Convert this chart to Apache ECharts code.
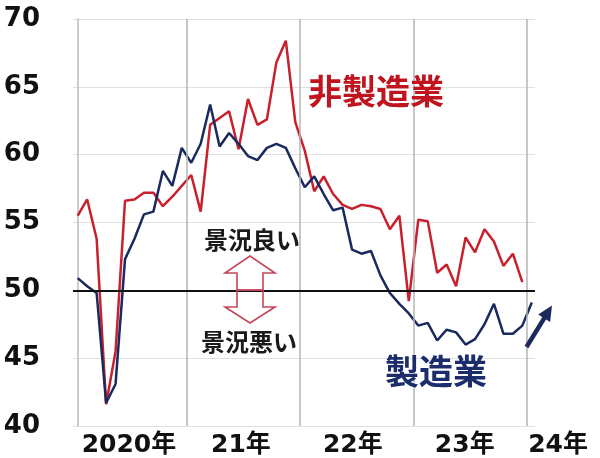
<!DOCTYPE html>
<html lang="ja">
<head>
    <meta charset="UTF-8">
    <title>製造業・非製造業の景況感</title>
    <script src="https://cdn.jsdelivr.net/npm/echarts@6/dist/echarts.min.js"></script>
    <style>html, body { margin: 0; padding: 0; background: #fff; }</style>
</head>
<body>
    <div id="main" style="width: 600px;height:458px;"></div>
    <script type="text/javascript">
        // 月番号 0 = 2020年1月
        var yearLabels = ['2020年', '21年', '22年', '23年', '24年'];
        var labelMonths = [5.5, 17.5, 29.5, 41.5, 51.5];
        var yearBounds = [11.5, 23.5, 35.5, 47.5];

        // 非製造業 (2020/1 - 2023/12)
        var nonManu = [55.5, 56.7, 53.8, 41.6, 45.5, 56.6, 56.7, 57.2, 57.2, 56.2, 56.9, 57.7,
                       58.5, 55.8, 62.2, 62.7, 63.2, 60.4, 64.1, 62.2, 62.6, 66.8, 68.4, 62.4,
                       60.3, 57.3, 58.4, 57.1, 56.3, 56.0, 56.3, 56.2, 56.0, 54.5, 55.5, 49.2,
                       55.2, 55.1, 51.3, 51.9, 50.3, 53.9, 52.8, 54.5, 53.6, 51.8, 52.7, 50.6];
        // 製造業 (2020/1 - 2024/1)
        var manu = [50.9, 50.3, 49.8, 41.7, 43.1, 52.3, 53.8, 55.6, 55.8, 58.8, 57.7, 60.5,
                    59.4, 60.8, 63.7, 60.6, 61.6, 60.8, 59.9, 59.6, 60.5, 60.8, 60.5, 59.0,
                    57.6, 58.4, 57.1, 55.9, 56.1, 53.0, 52.7, 52.9, 51.1, 49.8, 49.0, 48.3,
                    47.4, 47.6, 46.3, 47.1, 46.9, 46.0, 46.4, 47.5, 49.0, 46.8, 46.8, 47.4,
                    49.1];

        function toPoints(arr) {
            return arr.map(function (v, i) { return [i, v]; });
        }

        var numFont = 'DejaVu Sans, "Noto Sans CJK JP"';
        var jpFont = '"Noto Sans CJK JP", sans-serif';

        // 右下の上向き矢印
        var a0 = [526.5, 347], a1 = [552, 305.5];
        var dx = a1[0] - a0[0], dy = a1[1] - a0[1];
        var len = Math.sqrt(dx * dx + dy * dy);
        var ux = dx / len, uy = dy / len;
        var hb = [a1[0] - ux * 15, a1[1] - uy * 15];

        var myChart = echarts.init(document.getElementById('main'));
        var option = {
            animation: false,
            backgroundColor: '#fff',
            grid: [
                { left: 73, right: 65, top: 19, bottom: 32 },
                { left: 73, width: 534.5, top: 19, bottom: 32 }
            ],
            xAxis: [
                {
                    type: 'value', gridIndex: 0, min: -0.5, max: 48.34,
                    axisLine: { show: false }, axisTick: { show: false },
                    axisLabel: { show: false }, splitLine: { show: false }
                },
                {
                    type: 'value', gridIndex: 1, min: -0.5, max: 56,
                    axisLine: { show: false }, axisTick: { show: false },
                    splitLine: { show: false },
                    axisLabel: {
                        customValues: labelMonths,
                        margin: 7,
                        fontSize: 25,
                        fontWeight: 'bold',
                        fontFamily: numFont,
                        color: '#111',
                        formatter: function (v) {
                            for (var k = 0; k < labelMonths.length; k++) {
                                if (Math.abs(labelMonths[k] - v) < 0.01) return yearLabels[k];
                            }
                            return '';
                        }
                    }
                }
            ],
            yAxis: [
                {
                    type: 'value', gridIndex: 0, min: 40, max: 70, interval: 5,
                    axisLine: { show: true, lineStyle: { color: '#bbb', width: 1.5 } },
                    axisTick: { show: false },
                    axisLabel: {
                        margin: 33, fontSize: 26, fontWeight: 'bold',
                        fontFamily: numFont, color: '#111'
                    },
                    splitLine: { lineStyle: { color: '#e0e0e0', width: 1.2 } }
                },
                {
                    type: 'value', gridIndex: 1, min: 40, max: 70,
                    show: false
                }
            ],
            series: [
                {
                    // 年の区切り線
                    type: 'line', xAxisIndex: 0, yAxisIndex: 0, data: [], z: 1,
                    markLine: {
                        silent: true, symbol: 'none', label: { show: false },
                        lineStyle: { color: '#b5b5b5', width: 1.5, type: 'solid' },
                        data: yearBounds.map(function (x) { return { xAxis: x }; })
                    }
                },
                {
                    name: '非製造業', type: 'line', xAxisIndex: 0, yAxisIndex: 0, z: 3,
                    data: toPoints(nonManu), showSymbol: false,
                    lineStyle: { color: '#c8202c', width: 2.5 }
                },
                {
                    name: '製造業', type: 'line', xAxisIndex: 0, yAxisIndex: 0, z: 4,
                    data: toPoints(manu), showSymbol: false, clip: false,
                    lineStyle: { color: '#1b2a5e', width: 2.5 }
                },
                {
                    // 景況の分かれ目 50
                    type: 'line', xAxisIndex: 0, yAxisIndex: 0, data: [], z: 5,
                    markLine: {
                        silent: true, symbol: 'none', label: { show: false },
                        lineStyle: { color: '#111', width: 1.8, type: 'solid' },
                        data: [{ yAxis: 50 }]
                    }
                }
            ],
            graphic: [
                {
                    type: 'text', x: 376, y: 91, z: 10,
                    style: { text: '非製造業', fill: '#c0141e', fontSize: 34, fontWeight: 'bold',
                             fontFamily: jpFont, align: 'center', verticalAlign: 'middle' }
                },
                {
                    type: 'text', x: 436, y: 371, z: 10,
                    style: { text: '製造業', fill: '#1c2d6b', fontSize: 34, fontWeight: 'bold',
                             fontFamily: jpFont, align: 'center', verticalAlign: 'middle' }
                },
                {
                    type: 'text', x: 252, y: 240, z: 10,
                    style: { text: '景況良い', fill: '#1a1a1a', fontSize: 24, fontWeight: 'bold',
                             fontFamily: jpFont, align: 'center', verticalAlign: 'middle' }
                },
                {
                    type: 'text', x: 249, y: 342, z: 10,
                    style: { text: '景況悪い', fill: '#1a1a1a', fontSize: 24, fontWeight: 'bold',
                             fontFamily: jpFont, align: 'center', verticalAlign: 'middle' }
                },
                {
                    type: 'polygon', z: 10,
                    shape: { points: [[237, 290], [237, 273], [225, 273], [250, 256], [275, 273], [263, 273], [263, 290]] },
                    style: { fill: 'rgba(0,0,0,0)', stroke: '#c4475a', lineWidth: 1.6 }
                },
                {
                    type: 'polygon', z: 10,
                    shape: { points: [[237, 290], [237, 307], [225, 307], [250, 323], [275, 307], [263, 307], [263, 290]] },
                    style: { fill: 'rgba(0,0,0,0)', stroke: '#c4475a', lineWidth: 1.6 }
                },
                {
                    type: 'line', z: 10,
                    shape: { x1: a0[0], y1: a0[1], x2: hb[0] + ux * 2, y2: hb[1] + uy * 2 },
                    style: { stroke: '#1b2a5e', lineWidth: 4.5 }
                },
                {
                    type: 'polygon', z: 10,
                    shape: { points: [a1, [hb[0] - uy * 7, hb[1] + ux * 7], [hb[0] + uy * 7, hb[1] - ux * 7]] },
                    style: { fill: '#1b2a5e' }
                }
            ]
        };
        myChart.setOption(option);
    </script>
</body>
</html>
